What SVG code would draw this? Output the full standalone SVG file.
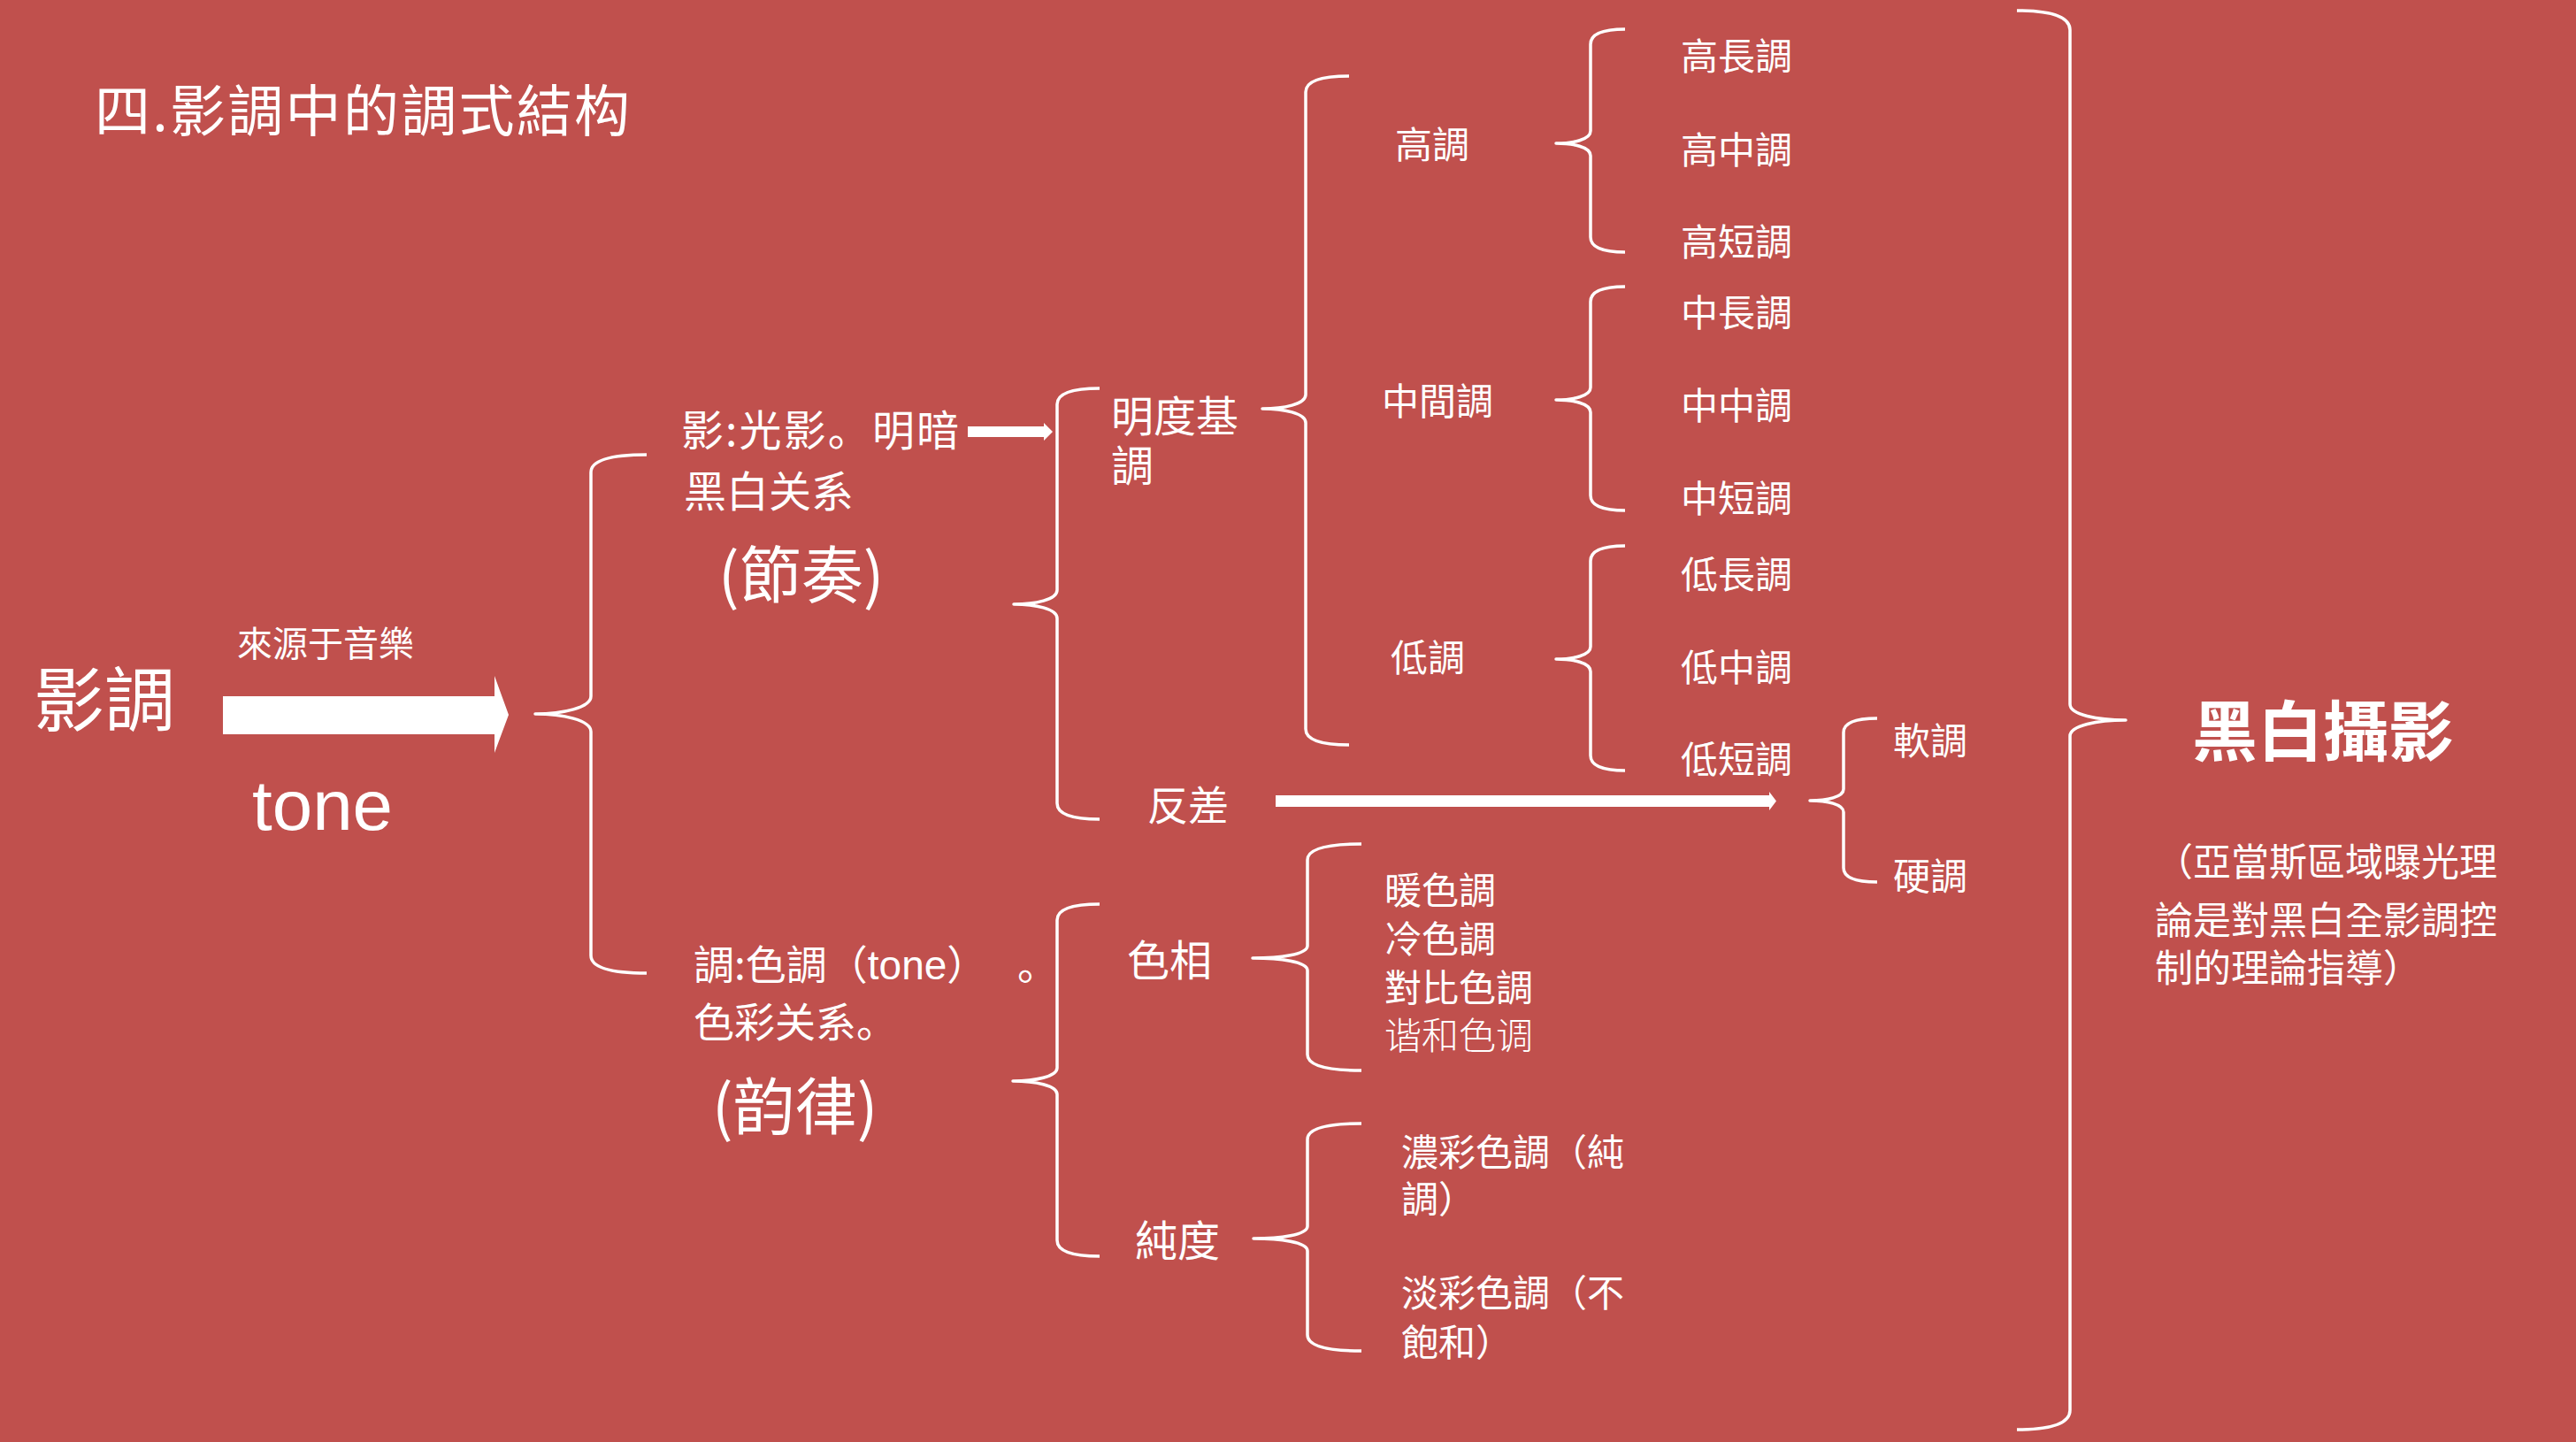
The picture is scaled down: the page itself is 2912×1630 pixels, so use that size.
<svg xmlns="http://www.w3.org/2000/svg" width="2912" height="1630" viewBox="0 0 2912 1630">
<style>
.t{fill:#FFFFFF;font-family:"Noto Sans CJK TC","Noto Sans CJK SC",sans-serif;}
.lat{font-family:"Liberation Sans","Noto Sans",sans-serif;}
.sc{font-family:"Noto Sans CJK SC",sans-serif;}
.br{fill:none;stroke:#FFFFFF;stroke-width:3.5;stroke-linecap:butt;stroke-linejoin:round;}
.ar{fill:#FFFFFF;stroke:none;}
</style>
<rect x="0" y="0" width="2912" height="1630" fill="#C0504D"/>

<g id="title"><text class="t" x="107" y="148" font-size="63" textLength="605" lengthAdjust="spacing">四.影調中的調式結构</text></g>

<g id="connectors">
  <polygon class="ar" points="252,787 559,787 559,764 575,808 559,851 559,830 252,830"/>
  <polygon class="ar" points="1094,482 1180,482 1180,478 1190,488 1180,498 1180,494 1094,494"/>
  <polygon class="ar" points="1442,899 2000,899 2000,895 2008,905.5 2000,916 2000,912 1442,912"/>
  <path class="br" d="M731,514 Q668,514 668,534 L668,787 C668,800 636,807 605,807 C636,807 668,814 668,827 L668,1080 Q668,1100 731,1100"/>
  <path class="br" d="M1243,439 Q1195,439 1195,457 L1195,667 C1195,678 1170,683 1146,683 C1170,683 1195,688 1195,699 L1195,908 Q1195,926 1243,926"/>
  <path class="br" d="M1525,86 Q1476,86 1476,104 L1476,446 C1476,457 1451,462 1427,462 C1451,462 1476,467 1476,478 L1476,824 Q1476,842 1525,842"/>
  <path class="br" d="M1837,33 Q1798,33 1798,50 L1798,148 C1798,158 1778,162 1759,162 C1778,162 1798,166 1798,176 L1798,268 Q1798,285 1837,285"/>
  <path class="br" d="M1837,324 Q1798,324 1798,341 L1798,438 C1798,448 1778,452 1759,452 C1778,452 1798,456 1798,466 L1798,560 Q1798,577 1837,577"/>
  <path class="br" d="M1837,617 Q1798,617 1798,634 L1798,731 C1798,741 1778,745 1759,745 C1778,745 1798,749 1798,759 L1798,854 Q1798,871 1837,871"/>
  <path class="br" d="M2122,812 Q2084,812 2084,828 L2084,892 C2084,901 2065,905 2046,905 C2065,905 2084,909 2084,918 L2084,981 Q2084,997 2122,997"/>
  <path class="br" d="M1243,1022 Q1195,1022 1195,1040 L1195,1207 C1195,1217 1170,1222 1145,1222 C1170,1222 1195,1227 1195,1237 L1195,1402 Q1195,1420 1243,1420"/>
  <path class="br" d="M1539,954 Q1478,954 1478,972 L1478,1069 C1478,1079 1447,1083 1416,1083 C1447,1083 1478,1087 1478,1097 L1478,1192 Q1478,1210 1539,1210"/>
  <path class="br" d="M1539,1270 Q1478,1270 1478,1288 L1478,1386 C1478,1396 1447,1400 1417,1400 C1447,1400 1478,1404 1478,1414 L1478,1509 Q1478,1527 1539,1527"/>
  <path class="br" stroke-width="4" d="M2280,12 Q2340,12 2340,34 L2340,796 C2340,808 2371,814 2403,814 C2371,814 2340,820 2340,832 L2340,1594 Q2340,1616 2280,1616"/>
</g>

<g id="n-yingdiao"><text class="t" x="38" y="820" font-size="80">影調</text></g>
<g id="n-source"><text class="t" x="268" y="742" font-size="40">來源于音樂</text></g>
<g id="n-tone"><text class="t lat" x="285" y="938" font-size="80" textLength="159" lengthAdjust="spacingAndGlyphs">tone</text></g>

<g id="n-ying">
  <text class="t" x="770" y="504" font-size="48" textLength="314" lengthAdjust="spacing">影:光影<tspan class="sc">。</tspan>明暗</text>
  <text class="t" x="773" y="573" font-size="48">黑白关系</text>
  <text class="t" x="812" y="676" font-size="70">(節奏)</text>
</g>
<g id="n-diao">
  <text class="t" x="784" y="1107" font-size="46">調:色調（<tspan class="lat">tone</tspan>）<tspan class="sc" x="1150">。</tspan></text>
  <text class="t" x="784" y="1172" font-size="46">色彩关系<tspan class="sc">。</tspan></text>
  <text class="t" x="805" y="1277" font-size="70">(韵律)</text>
</g>

<g id="n-mingdu">
  <text class="t" font-size="48"><tspan x="1256" y="488">明度基</tspan><tspan x="1256" y="544">調</tspan></text>
</g>
<g id="n-fancha"><text class="t" x="1297" y="927" font-size="46">反差</text></g>

<g id="n-gao"><text class="t" x="1577" y="179" font-size="42">高調</text></g>
<g id="n-zhongjian"><text class="t" x="1562" y="469" font-size="42">中間調</text></g>
<g id="n-di"><text class="t" x="1572" y="759" font-size="42">低調</text></g>

<g id="n-gaochang"><text class="t" x="1900" y="79" font-size="42">高長調</text></g>
<g id="n-gaozhong"><text class="t" x="1900" y="185" font-size="42">高中調</text></g>
<g id="n-gaoduan"><text class="t" x="1900" y="289" font-size="42">高短調</text></g>
<g id="n-zhongchang"><text class="t" x="1900" y="369" font-size="42">中長調</text></g>
<g id="n-zhongzhong"><text class="t" x="1900" y="474" font-size="42">中中調</text></g>
<g id="n-zhongduan"><text class="t" x="1900" y="579" font-size="42">中短調</text></g>
<g id="n-dichang"><text class="t" x="1900" y="665" font-size="42">低長調</text></g>
<g id="n-dizhong"><text class="t" x="1900" y="770" font-size="42">低中調</text></g>
<g id="n-diduan"><text class="t" x="1900" y="874" font-size="42">低短調</text></g>

<g id="n-ruan"><text class="t" x="2140" y="853" font-size="42">軟調</text></g>
<g id="n-ying2"><text class="t" x="2140" y="1006" font-size="42">硬調</text></g>

<g id="n-sexiang"><text class="t" x="1274" y="1103" font-size="48">色相</text></g>
<g id="n-chundu"><text class="t" x="1283" y="1420" font-size="48">純度</text></g>

<g id="n-nuan"><text class="t" x="1565" y="1022" font-size="42">暖色調</text></g>
<g id="n-leng"><text class="t" x="1565" y="1077" font-size="42">冷色調</text></g>
<g id="n-duibi"><text class="t" x="1565" y="1132" font-size="42">對比色調</text></g>
<g id="n-xiehe"><text class="t sc" x="1565" y="1186" font-size="42" font-weight="300">谐和色调</text></g>

<g id="n-nongcai">
  <text class="t" font-size="42"><tspan x="1584" y="1318">濃彩色調（純</tspan><tspan x="1584" y="1371">調）</tspan></text>
</g>
<g id="n-dancai">
  <text class="t" font-size="42"><tspan x="1584" y="1477">淡彩色調（不</tspan><tspan x="1584" y="1533">飽和）</tspan></text>
</g>

<g id="n-heibai">
  <text class="t" x="2478" y="854" font-size="74" font-weight="bold">黑白攝影</text>
  <text class="t" font-size="43"><tspan x="2436" y="990">（亞當斯區域曝光理</tspan><tspan x="2436" y="1056">論是對黑白全影調控</tspan><tspan x="2436" y="1110">制的理論指導）</tspan></text>
</g>
</svg>
